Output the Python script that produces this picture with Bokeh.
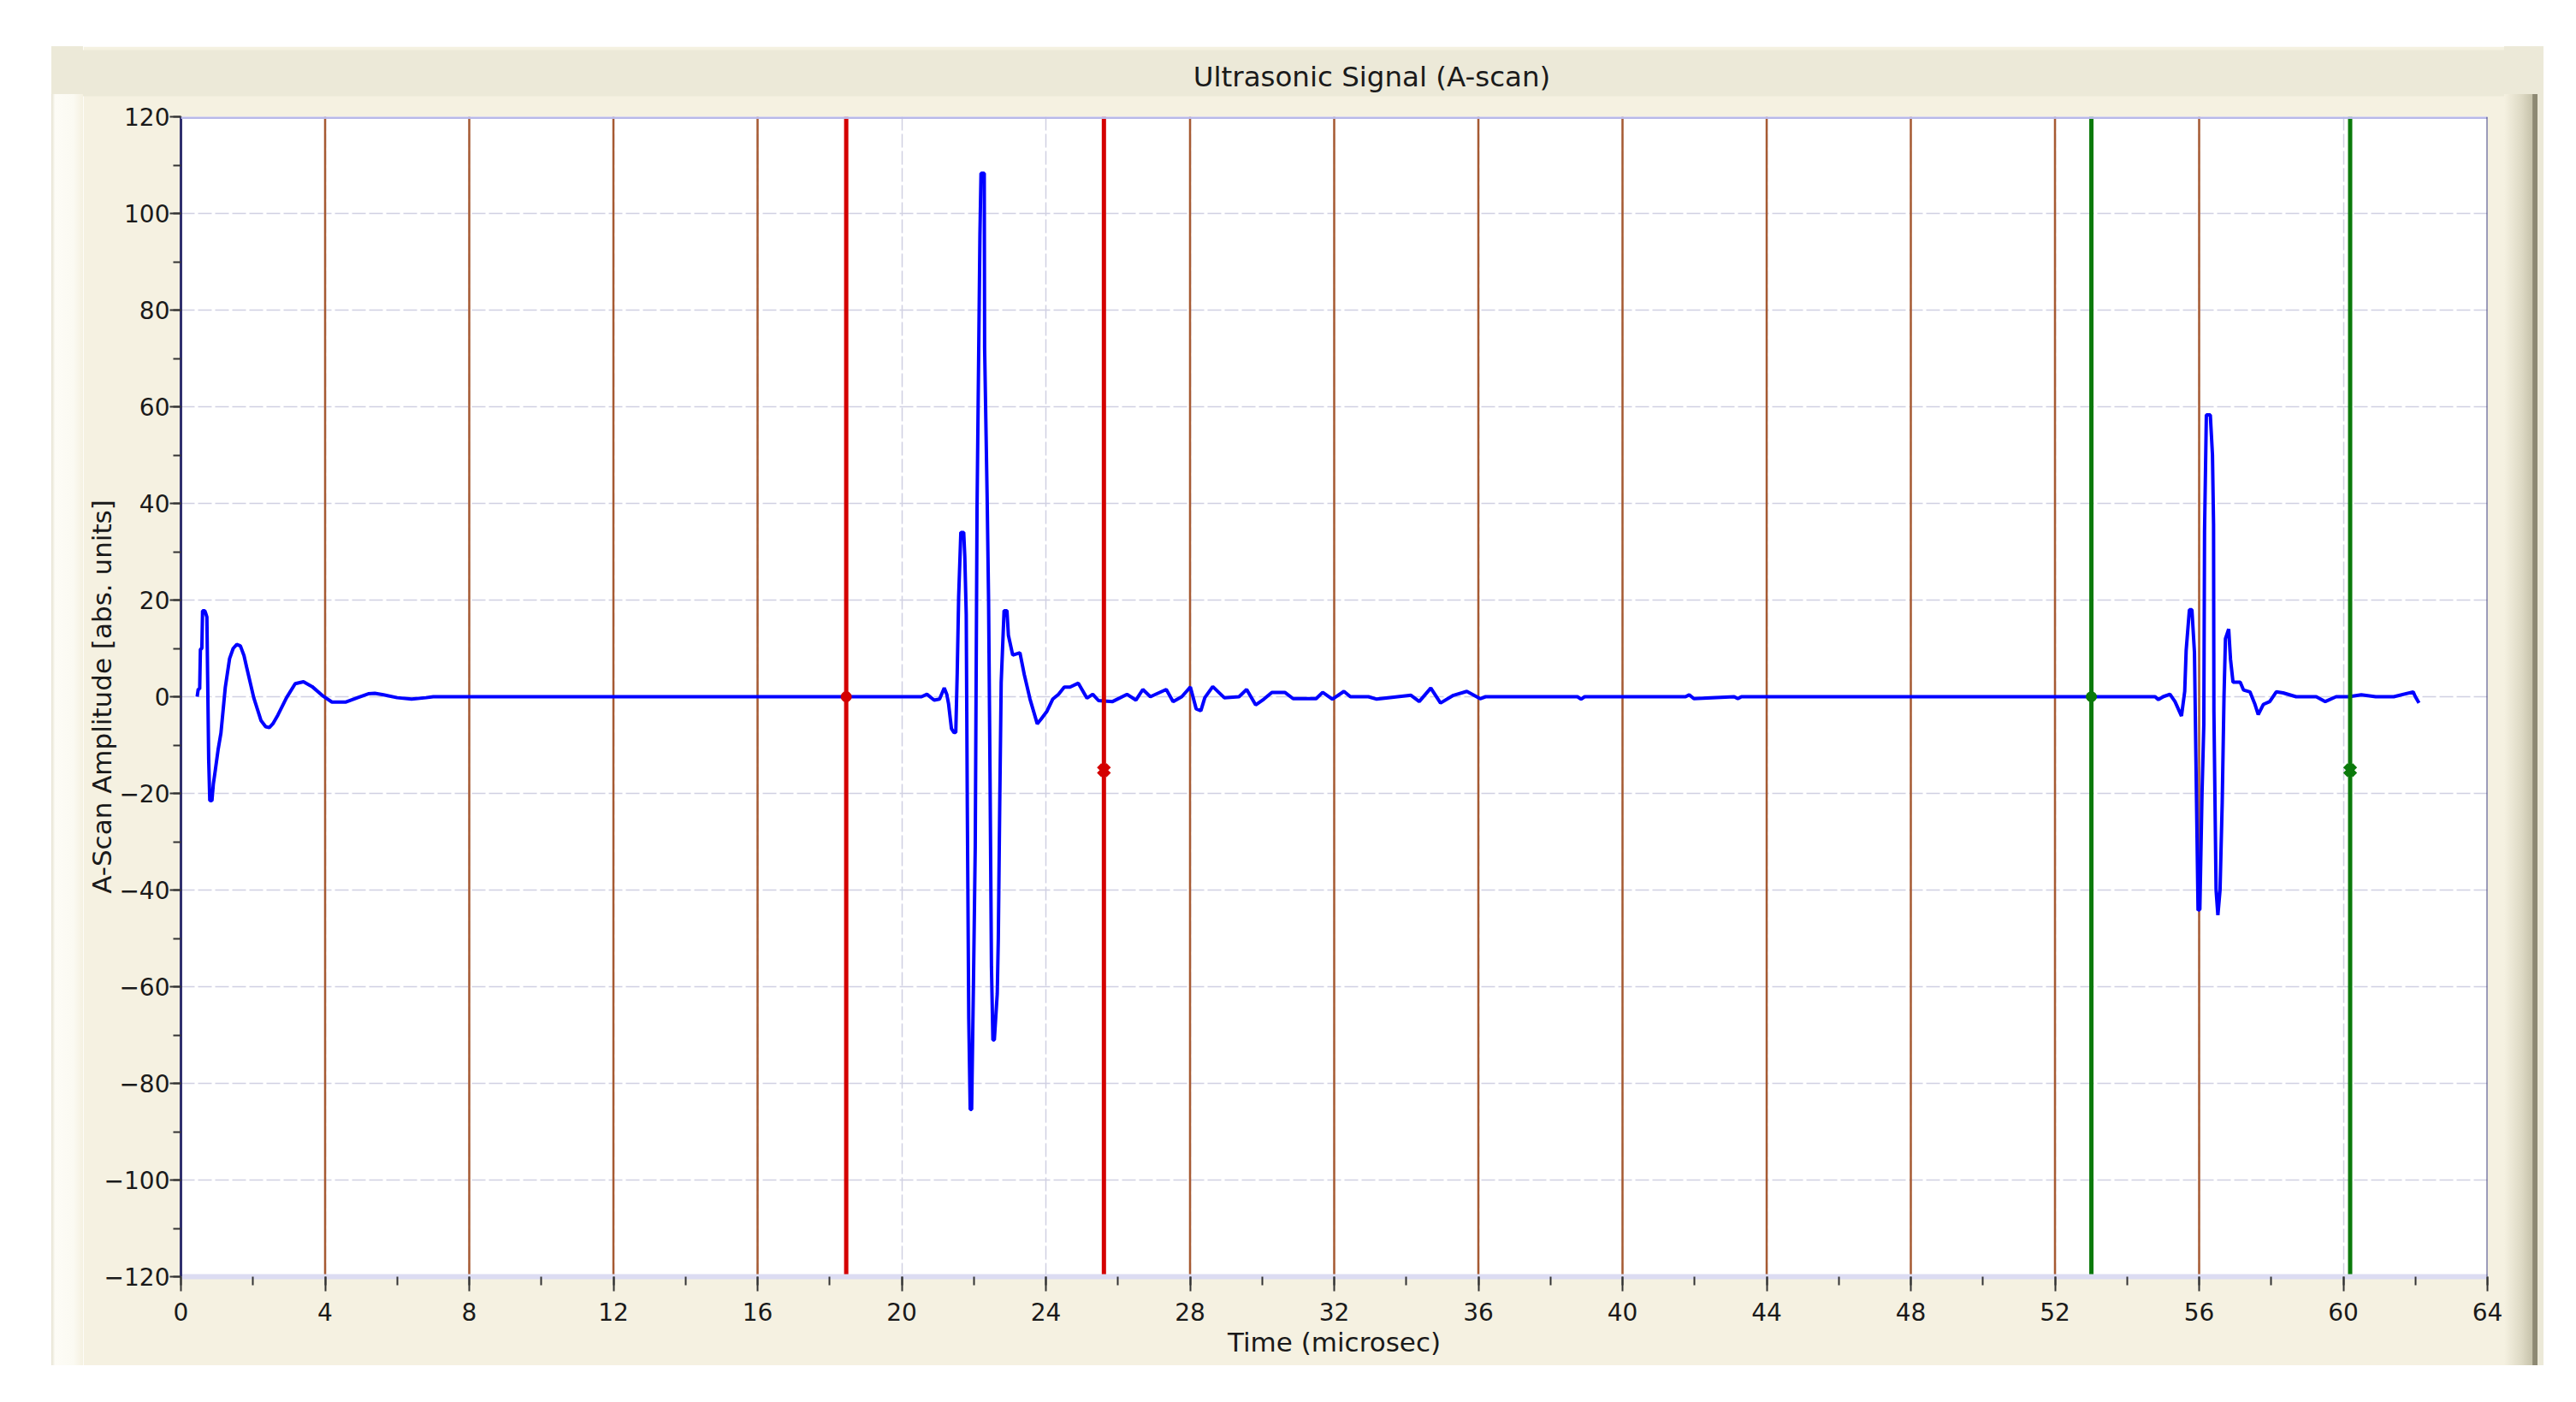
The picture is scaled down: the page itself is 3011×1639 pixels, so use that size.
from bokeh.plotting import figure
from bokeh.models import Span, Range1d, SingleIntervalTicker, FixedTicker, LinearAxis, Spacer, Div
from bokeh.layouts import column, row
from bokeh.embed import file_html
from bokeh.resources import INLINE

# ---------------- data ----------------
time_us = [
    0.45, 0.48, 0.52, 0.54, 0.58, 0.60, 0.66, 0.69, 0.72, 0.74, 0.77, 0.80, 0.86, 0.90, 0.95,
    1.03, 1.11, 1.23, 1.35, 1.45, 1.55, 1.65, 1.75, 1.82, 2.02, 2.22, 2.35, 2.45, 2.55, 2.69,
    2.93, 3.17, 3.40, 3.64, 3.95, 4.19, 4.58, 4.90, 5.20, 5.38, 5.62, 6.00, 6.40, 6.80, 7.00,
    20.55, 20.70, 20.90, 21.05, 21.18, 21.25, 21.30, 21.38, 21.45, 21.50, 21.54, 21.58, 21.64,
    21.72, 21.75, 21.79, 21.82, 21.86, 21.90, 21.94, 21.99, 22.04, 22.09, 22.17, 22.20, 22.29,
    22.30, 22.37, 22.41, 22.45, 22.49, 22.53, 22.57, 22.65, 22.68, 22.72, 22.76, 22.84, 22.92,
    22.96, 23.08, 23.28, 23.40, 23.56, 23.76, 23.87, 24.03, 24.19, 24.35, 24.51, 24.67, 24.90,
    25.14, 25.30, 25.46, 25.85, 26.25, 26.50, 26.69, 26.90, 27.34, 27.53, 27.77, 28.01, 28.17,
    28.30, 28.41, 28.63, 28.95, 29.36, 29.57, 29.82, 30.05, 30.27, 30.63, 30.86, 31.50, 31.68,
    31.95, 32.27, 32.45, 32.95, 33.18, 34.13, 34.36, 34.68, 34.95, 35.31, 35.68, 36.05, 36.20,
    38.75, 38.85, 38.95, 41.75, 41.85, 41.98, 43.10, 43.20, 43.30,
    54.78, 54.87, 55.00, 55.19, 55.33, 55.51, 55.60, 55.64, 55.73, 55.80, 55.87, 55.91, 55.97,
    56.02, 56.08, 56.13, 56.15, 56.20, 56.31, 56.37, 56.40, 56.41, 56.47, 56.52, 56.58, 56.64,
    56.69, 56.73, 56.82, 56.87, 56.94, 57.14, 57.23, 57.41, 57.55, 57.64, 57.78, 57.96, 58.14,
    58.33, 58.69, 59.05, 59.25, 59.50, 59.80, 60.15, 60.50, 60.90, 61.40, 61.94, 62.00, 62.10,
]
amplitude = [
    0.0, 1.6, 1.6, 9.8, 10.0, 17.8, 17.8, 17.2, 16.5, 4.5, -13.0, -21.5, -21.5, -18.0, -15.4,
    -11.0, -7.5, 1.9, 7.9, 10.0, 10.8, 10.5, 8.5, 6.2, -0.2, -4.9, -6.2, -6.4, -5.6, -3.8,
    -0.2, 2.7, 3.1, 2.1, 0.1, -1.1, -1.1, -0.2, 0.6, 0.7, 0.4, -0.2, -0.5, -0.2, 0.0,
    0.0, 0.5, -0.7, -0.5, 1.8, 0.5, -1.5, -6.6, -7.4, -7.4, 5.0, 20.8, 34.0,
    34.0, 29.0, 17.0, -22.9, -66.6, -85.4, -85.4, -59.5, -31.0, 39.0, 95.6, 108.3, 108.3,
    72.2, 41.3, 20.0, -15.8, -56.0, -71.0, -71.0, -61.5, -50.0, -21.8, 3.0, 17.8, 17.8,
    12.7, 8.6, 9.1, 4.6, -0.5, -5.6, -4.6, -3.0, -0.5, 0.5, 2.0, 2.0, 2.8,
    -0.3, 0.5, -0.8, -1.0, 0.5, -0.7, 1.5, 0.0, 1.5, -1.0, 0.0, 2.0, -2.5,
    -2.9, -0.2, 2.1, -0.2, 0.0, 1.5, -1.7, -0.5, 0.9, 0.9, -0.4, -0.4, 0.9,
    -0.5, 1.1, 0.0, 0.0, -0.5, 0.3, -1.0, 1.8, -1.3, 0.3, 1.1, -0.4, 0.0,
    0.0, -0.5, 0.0, 0.0, 0.4, -0.4, 0.0, -0.4, 0.0,
    0.0, -0.6, 0.0, 0.5, -1.0, -4.0, 1.1, 9.6, 18.0, 18.0, 9.2, -12.5, -44.2,
    -44.0, -20.0, -5.7, 34.3, 58.3, 58.3, 50.0, 35.7, -3.0, -40.0, -45.2, -40.0, -22.0,
    0.0, 12.0, 14.0, 7.8, 3.0, 3.0, 1.4, 1.0, -1.6, -3.7, -1.6, -1.0, 1.0,
    0.8, 0.0, 0.0, 0.0, -1.0, 0.0, 0.0, 0.4, 0.0, 0.0, 1.0, 0.0, -1.3,
]

marker_lines_x = [4, 8, 12, 16, 28, 32, 36, 40, 44, 48, 52, 56]   # brown cursor lines
gate_start_x = [18.46, 53.01]        # red gate, green gate (start)
gate_end_x = [25.61, 60.19]          # red gate, green gate (end)
gate_start_level = [0.0, 0.0]
gate_end_level = [-15.2, -15.2]
gate_colors = ["#d40000", "#0b7a0b"]

X_MIN, X_MAX = 0, 64
Y_MIN, Y_MAX = -120, 120

TITLE = "Ultrasonic Signal (A-scan)"
X_LABEL = "Time (microsec)"
Y_LABEL = "A-Scan Amplitude [abs. units]"

# ---------------- figure ----------------
FH = 1542
STRIP_W = 37
BEVEL_W = 46
FW = 2913 - STRIP_W - BEVEL_W
BAND_H = 56
PANEL = "#f5f1e1"
BAND = "#ece9d8"
FONT = "DejaVu Sans"

p = figure(width=FW, height=FH,
           x_range=Range1d(X_MIN, X_MAX), y_range=Range1d(Y_MIN, Y_MAX),
           output_backend="svg", toolbar_location=None, title=TITLE,
           min_border_left=151 - STRIP_W, min_border_right=20, min_border_top=82,
           min_border_bottom=104,
           background_fill_color="white", border_fill_color=PANEL,
           outline_line_color=None)

xax = p.below[0]
yax = p.left[0]

# invisible spacer axis between the frame and the title band
gap_axis = LinearAxis(ticker=FixedTicker(ticks=[X_MIN], minor_ticks=[]),
                      major_label_overrides={X_MIN: ""},
                      major_label_text_font_size="1px", major_label_standoff=0,
                      axis_line_color=None,
                      major_tick_out=24, major_tick_in=0, major_tick_line_color=None,
                      minor_tick_out=0, minor_tick_in=0, minor_tick_line_color=None)
p.add_layout(gap_axis, "above")

p.title.align = "center"
p.title.text_font = FONT
p.title.text_font_size = "32.5px"
p.title.text_font_style = "normal"
p.title.text_color = "#1a1a1a"
p.title.background_fill_color = BAND
p.title.padding = dict(left=1450, right=1362, top=12, bottom=4)
p.title.standoff = 0

# axes
xax.ticker = SingleIntervalTicker(interval=4, num_minor_ticks=2)
yax.ticker = SingleIntervalTicker(interval=20, num_minor_ticks=2)
for ax in (xax, yax):
    ax.major_label_text_font = FONT
    ax.major_label_text_font_size = "28px"
    ax.major_label_text_color = "#1a1a1a"
    ax.axis_label_text_font = FONT
    ax.axis_label_text_font_size = "31px"
    ax.axis_label_text_font_style = "normal"
    ax.axis_label_text_color = "#1a1a1a"
    ax.major_tick_in = 0
    ax.minor_tick_in = 0
    ax.major_tick_line_color = "#333333"
    ax.minor_tick_line_color = "#333333"
    ax.major_tick_line_width = 2
    ax.minor_tick_line_width = 2

xax.axis_label = X_LABEL
xax.axis_line_color = "#dcdcf2"
xax.axis_line_width = 6
xax.major_tick_out = 17
xax.minor_tick_out = 10
xax.major_label_standoff = 13
xax.axis_label_standoff = 4

yax.axis_label = Y_LABEL
yax.axis_line_color = "#30306e"
yax.axis_line_width = 3
yax.major_tick_out = 13
yax.minor_tick_out = 9
yax.major_label_standoff = 0
yax.axis_label_standoff = -18

# grid
p.xgrid.ticker = xax.ticker
p.ygrid.ticker = yax.ticker
for g in (p.xgrid, p.ygrid):
    g.grid_line_color = "#d0d0e2"
    g.grid_line_width = 1.5
    g.grid_line_dash = "16 4"

# frame top / right borders
p.add_layout(Span(location=Y_MAX, dimension="width", line_color="#b8b8e8", line_width=5))
p.add_layout(Span(location=X_MAX, dimension="height", line_color="#3a3a78", line_width=2))

n = len(marker_lines_x)
p.segment(x0=marker_lines_x, y0=[Y_MIN] * n, x1=marker_lines_x, y1=[Y_MAX] * n,
          line_color="#a65a32", line_width=2.5)

# signal
p.line(time_us, amplitude, line_color="#0000ff", line_width=4)

# gates
for xs, xe, ys, ye, c in zip(gate_start_x, gate_end_x, gate_start_level, gate_end_level, gate_colors):
    p.segment(x0=[xs, xe], y0=[Y_MIN, Y_MIN], x1=[xs, xe], y1=[Y_MAX, Y_MAX],
              line_color=c, line_width=5)
    p.scatter([xs], [ys], marker="circle", size=12, fill_color=c, line_color=c)
    p.scatter([xe], [ye], marker="x", size=16, line_color=c, line_width=7)

# panel edges (left light strip, right 3D bevel)
def block(w, h, bg):
    return Div(text="", width=w, height=h, margin=0, styles={"background": bg})

left_edge = column(block(STRIP_W, BAND_H, BAND),
                   block(STRIP_W, FH - BAND_H,
                         "linear-gradient(to right, #e6e3d2 0%%, #fdfcf6 12%%, #fbfaf2 70%%, %s 100%%)" % PANEL),
                   spacing=0)
right_edge = column(block(BEVEL_W, BAND_H, BAND),
                    block(BEVEL_W, FH - BAND_H,
                          "linear-gradient(to right, %s 0%%, #ddd9c4 45%%, #c6c2aa 72%%, "
                          "#8d8973 73%%, #8d8973 84%%, #ece9d8 85%%, #ece9d8 100%%)" % PANEL),
                    spacing=0)

layout = column(Spacer(height=54),
                row(Spacer(width=60), left_edge, p, right_edge, spacing=0),
                spacing=0)
open("out.html", "w").write(file_html(layout, INLINE))
